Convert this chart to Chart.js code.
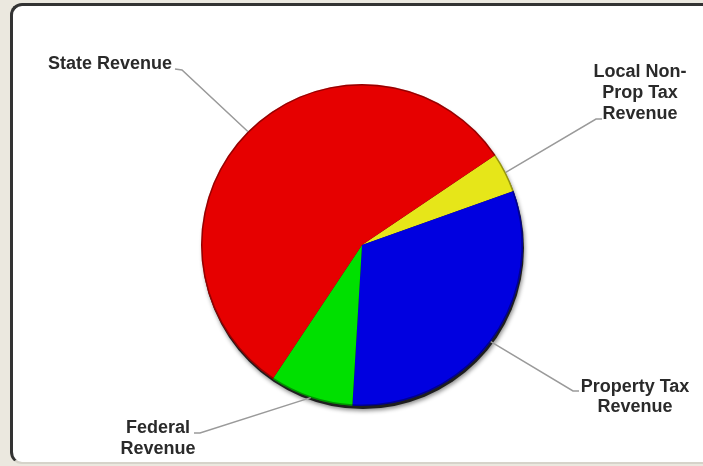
<!DOCTYPE html>
<html lang="en">
<head>
<meta charset="UTF-8">
<title>Revenue Sources</title>
<script src="https://cdn.jsdelivr.net/npm/chart.js"></script>
<style>
  html, body { margin: 0; padding: 0; }
  body { width: 703px; height: 466px; background: #ebe8df; position: relative; overflow: hidden; }
  #panel {
    position: absolute; left: 10px; top: 3px; width: 720px; height: 456px;
    background: #fff;
    border-top: 3px solid #333; border-left: 3px solid #333; border-bottom: 2px solid #d6d3ca;
    border-radius: 12px 0 0 12px;
  }
  canvas { position: absolute; left: 0; top: 0; }
</style>
</head>
<body>
<div id="panel"></div>
<canvas id="revenue-chart" width="703" height="466"></canvas>
<script>
// slices in clockwise order, starting from the yellow one
const labels = ['Local Non-Prop Tax Revenue', 'Property Tax Revenue', 'Federal Revenue', 'State Revenue'];
const labelLines = [['Local Non-', 'Prop Tax', 'Revenue'], ['Property Tax', 'Revenue'], ['Federal', 'Revenue'], ['State Revenue']];
const shares = [4.0, 31.4, 8.4, 56.2];
const colors = ['#e6e619', '#0000e0', '#00e000', '#e60000'];

// callout placement, relative to the pie centre (text centre, line elbow, stub end)
const callouts = [
  { text: [278, -173], gap: 21, elbow: [234, -126], stub: [240, -126] },
  { text: [273, 142], gap: 20, elbow: [211, 146], stub: [217, 146] },
  { text: [-204, 183], gap: 21, elbow: [-162, 188], stub: [-168, 188] },
  { text: [-252, -181], gap: 20, elbow: [-180, -175], stub: [-187, -176] }
];

const pieDecor = {
  id: 'pieDecor',
  beforeDatasetsDraw(chart) {
    const arc = chart.getDatasetMeta(0).data[0];
    const { x, y, outerRadius } = arc.getProps(['x', 'y', 'outerRadius'], true);
    const ctx = chart.ctx;
    // drop shadow / dark rim at the lower right
    ctx.save();
    ctx.shadowColor = 'rgba(0,0,0,0.45)';
    ctx.shadowBlur = 4;
    ctx.shadowOffsetX = 1;
    ctx.shadowOffsetY = 2;
    ctx.fillStyle = '#1e1e1e';
    ctx.beginPath();
    ctx.arc(x + 1, y + 3, outerRadius, 0, Math.PI * 2);
    ctx.fill();
    ctx.restore();
  },
  afterDatasetsDraw(chart) {
    const ctx = chart.ctx;
    const arcs = chart.getDatasetMeta(0).data;
    ctx.save();
    arcs.forEach((arc, i) => {
      const { x, y, outerRadius, startAngle, endAngle } =
        arc.getProps(['x', 'y', 'outerRadius', 'startAngle', 'endAngle'], true);
      // darker outer rim
      ctx.strokeStyle = 'rgba(0,0,0,0.35)';
      ctx.lineWidth = 1.5;
      ctx.beginPath();
      ctx.arc(x, y, outerRadius - 0.75, startAngle, endAngle);
      ctx.stroke();

      // leader line
      const mid = (startAngle + endAngle) / 2;
      const c = callouts[i];
      ctx.strokeStyle = '#9a9a9a';
      ctx.lineWidth = 1.5;
      ctx.beginPath();
      ctx.moveTo(x + Math.cos(mid) * outerRadius, y + Math.sin(mid) * outerRadius);
      ctx.lineTo(x + c.elbow[0], y + c.elbow[1]);
      ctx.lineTo(x + c.stub[0], y + c.stub[1]);
      ctx.stroke();

      // label text
      ctx.fillStyle = '#2a2a2a';
      ctx.font = 'bold 18px "Liberation Sans", Arial, sans-serif';
      ctx.textAlign = 'center';
      ctx.textBaseline = 'middle';
      labelLines[i].forEach((line, j) => {
        ctx.fillText(line, x + c.text[0], y + c.text[1] + j * c.gap);
      });
    });
    ctx.restore();
  }
};

new Chart(document.getElementById('revenue-chart'), {
  type: 'pie',
  data: {
    labels: labels,
    datasets: [{
      data: shares,
      backgroundColor: colors,
      borderWidth: 0
    }]
  },
  options: {
    responsive: false,
    animation: false,
    rotation: 56,
    layout: { padding: { left: 200, right: 179, top: 84, bottom: 60 } },
    plugins: {
      legend: { display: false },
      tooltip: { enabled: false }
    }
  },
  plugins: [pieDecor]
});
</script>
</body>
</html>
